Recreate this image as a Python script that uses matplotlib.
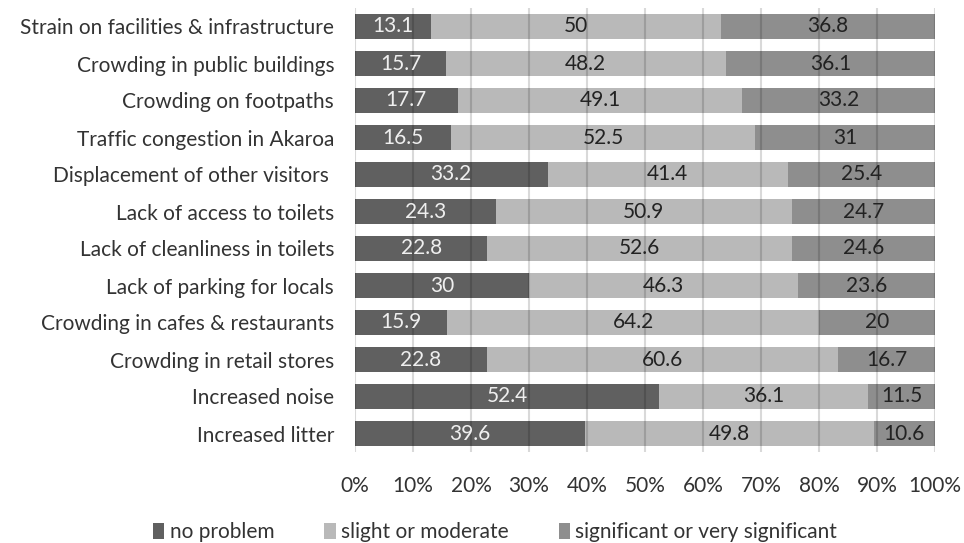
import matplotlib.pyplot as plt
import numpy as np

plt.rcParams['font.family'] = ['Lato', 'DejaVu Sans']

categories = ['Strain on facilities & infrastructure', 'Crowding in public buildings',
              'Crowding on footpaths', 'Traffic congestion in Akaroa',
              'Displacement of other visitors ', 'Lack of access to toilets',
              'Lack of cleanliness in toilets', 'Lack of parking for locals',
              'Crowding in cafes & restaurants', 'Crowding in retail stores',
              'Increased noise', 'Increased litter']
no_problem = [13.1, 15.7, 17.7, 16.5, 33.2, 24.3, 22.8, 30, 15.9, 22.8, 52.4, 39.6]
slight = [50, 48.2, 49.1, 52.5, 41.4, 50.9, 52.6, 46.3, 64.2, 60.6, 36.1, 49.8]
significant = [36.8, 36.1, 33.2, 31, 25.4, 24.7, 24.6, 23.6, 20, 16.7, 11.5, 10.6]
labels = ['no problem', 'slight or moderate', 'significant or very significant']

fig = plt.figure(figsize=(9.64, 5.43), dpi=100)
ax = fig.add_axes([355/964, 1-452/543, 580/964, 444/543])

fs = 15
y = np.arange(len(categories))
colors = ['#606060', '#b9b9b9', '#8e8e8e']
txtc = ['#efefef', '#222222', '#222222']
total = np.array(no_problem) + np.array(slight) + np.array(significant)
left = np.zeros(len(categories))
for vals, c, tc, lab in zip([no_problem, slight, significant], colors, txtc, labels):
    vals = np.array(vals, dtype=float)
    w = vals / total * 100
    ax.barh(y, w, left=left, height=0.66, color=c, label=lab, zorder=2)
    for yi, l, wi, v in zip(y, left, w, vals):
        ax.text(l + wi/2, yi, f'{v:g}', ha='center', va='center', color=tc, fontsize=fs, zorder=4)
    left += w

ax.set_ylim(len(categories) - 0.5, -0.5)
ax.set_xlim(0, 100)
ax.set_yticks(y)
ax.set_yticklabels(categories, fontsize=fs, color='#333333')
ax.set_xticks(np.arange(0, 101, 10))
ax.set_xticklabels([f'{t}%' for t in range(0, 101, 10)], fontsize=fs, color='#333333')
ax.tick_params(axis='y', length=0, pad=15)
ax.tick_params(axis='x', length=0, pad=17)
ax.set_axisbelow(False)
ax.grid(axis='x', color='black', alpha=0.15, linewidth=1.5, zorder=3)
for s in ax.spines.values():
    s.set_visible(False)

fig.legend(loc='center', bbox_to_anchor=(495/964, 1-532/543), ncol=3, frameon=False,
           fontsize=fs, handlelength=0.55, handleheight=0.8, handletextpad=0.25,
           columnspacing=2.4, labelcolor='#333333')
fig.savefig('out.png', dpi=100)
